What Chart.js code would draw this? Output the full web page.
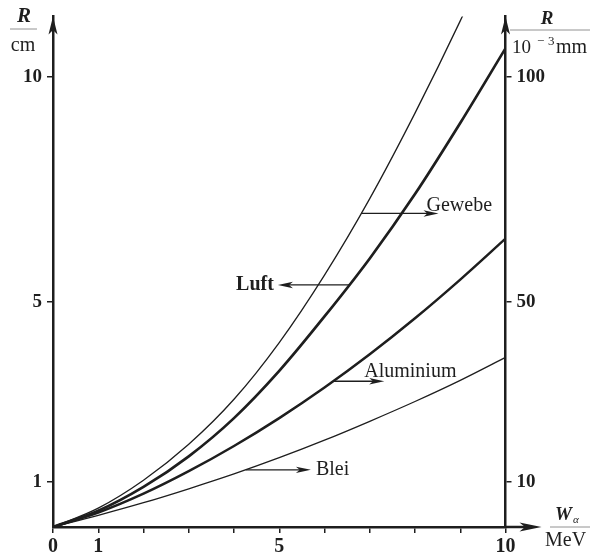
<!DOCTYPE html>
<html><head><meta charset="utf-8">
<script src="https://cdn.jsdelivr.net/npm/chart.js@4/dist/chart.umd.min.js"></script>
<style>html,body{margin:0;padding:0;background:#fff}#wrap{width:593px;height:559px}</style>
</head><body><div id="wrap"><canvas id="c" width="593" height="559"></canvas></div>
<script>
// ---- data ----
const energies  = [0, 1, 2, 3, 4, 5, 6, 7, 8, 9, 10];               // W_alpha / MeV
const gewebe    = [0, 0.42, 1.04, 1.84, 2.84, 4.1, 5.6, 7.3, 9.2, 11.25, 13.45];
const luft      = [0, 0.36, 0.89, 1.57, 2.42, 3.47, 4.68, 5.97, 7.40, 8.98, 10.64];
const aluminium = [0, 0.32, 0.74, 1.24, 1.80, 2.42, 3.10, 3.84, 4.64, 5.50, 6.41];
const blei      = [0, 0.26, 0.54, 0.85, 1.18, 1.54, 1.93, 2.35, 2.79, 3.26, 3.77];
const xTickValues = [0, 1, 2, 3, 4, 5, 6, 7, 8, 9, 10];
const xTickLabels = ['0', '1', '', '', '', '5', '', '', '', '', '10'];
const leftTicks  = [1, 5, 10];     // R / cm
const rightTicks = [10, 50, 100];  // R / 10^-3 mm
const seriesNames = ['Gewebe', 'Luft', 'Aluminium', 'Blei'];
// label arrows: start on curve -> tip (data coords)
const arrowFrom = [[6.81, 6.97], [6.55, 5.38], [6.19, 3.24], [4.26, 1.27]];
const arrowTo   = [[8.52, 6.97], [4.97, 5.38], [7.32, 3.24], [5.70, 1.27]];

const F = '"Liberation Serif", "Times New Roman", serif';
const INK = '#1e1e1e';
const mk = arr => energies.map((x, i) => ({x, y: arr[i]}));
const widths = [1.3, 2.7, 2.5, 1.3];
const allSeries = [gewebe, luft, aluminium, blei];

function head(ctx, x, y, dx, dy, len, hw) {
  ctx.beginPath();
  ctx.moveTo(x, y);
  ctx.lineTo(x - dx*len - dy*hw, y - dy*len + dx*hw);
  ctx.lineTo(x - dx*len*0.75, y - dy*len*0.75);
  ctx.lineTo(x - dx*len + dy*hw, y - dy*len - dx*hw);
  ctx.closePath();
  ctx.fill();
}

const deco = {
  id: 'deco',
  afterDraw(chart) {
    const ctx = chart.ctx, ca = chart.chartArea;
    const sx = chart.scales.x, sy = chart.scales.y;
    const x0 = sx.getPixelForValue(0), x10 = sx.getPixelForValue(10), y0 = sy.getPixelForValue(0);
    ctx.save();
    ctx.fillStyle = INK; ctx.strokeStyle = INK;
    // axis arrows
    head(ctx, x0, ca.top, 0, -1, 18, 4.5);
    head(ctx, x10, ca.top, 0, -1, 18, 4.5);
    ctx.lineWidth = 2.5;
    ctx.beginPath(); ctx.moveTo(x10, y0); ctx.lineTo(x10 + 22, y0); ctx.stroke();
    head(ctx, x10 + 36, y0, 1, 0, 22, 4.5);

    // axis titles
    ctx.textBaseline = 'alphabetic';
    ctx.textAlign = 'center';
    ctx.font = 'italic bold 21px ' + F;
    ctx.fillText('R', 24, 22);
    ctx.font = '20px ' + F;
    ctx.fillText('cm', 23, 51);
    ctx.lineWidth = 0.8; ctx.strokeStyle = '#777';
    ctx.beginPath(); ctx.moveTo(10, 29); ctx.lineTo(37, 29); ctx.stroke();

    ctx.fillStyle = INK;
    ctx.font = 'italic bold 19px ' + F;
    ctx.fillText('R', 547, 24);
    ctx.beginPath(); ctx.moveTo(510, 30); ctx.lineTo(590, 30); ctx.stroke();
    ctx.textAlign = 'left';
    ctx.font = '19px ' + F;
    ctx.fillText('10', 512, 53);
    ctx.font = '13px ' + F;
    ctx.fillText('\u2212', 537, 45);
    ctx.fillText('3', 548, 45);
    ctx.font = '20px ' + F;
    ctx.fillText('mm', 556, 53);

    ctx.font = 'italic bold 19px ' + F;
    ctx.fillText('W', 555, 520);
    ctx.font = 'italic 11px ' + F;
    ctx.fillText('\u03b1', 573, 523);
    ctx.beginPath(); ctx.moveTo(550, 527); ctx.lineTo(590, 527); ctx.stroke();
    ctx.font = '20px ' + F;
    ctx.fillText('MeV', 545, 546);

    // label arrows and names
    ctx.strokeStyle = INK; ctx.fillStyle = INK; ctx.lineWidth = 1.3;
    seriesNames.forEach((name, i) => {
      const ax = sx.getPixelForValue(arrowFrom[i][0]), ay = sy.getPixelForValue(arrowFrom[i][1]);
      const bx = sx.getPixelForValue(arrowTo[i][0]), by = sy.getPixelForValue(arrowTo[i][1]);
      const dir = bx > ax ? 1 : -1;
      ctx.beginPath(); ctx.moveTo(ax, ay); ctx.lineTo(bx - dir*8, by); ctx.stroke();
      head(ctx, bx, by, dir, 0, 15, 3.2);
      if (name === 'Gewebe') {
        ctx.font = '20px ' + F; ctx.textAlign = 'left'; ctx.textBaseline = 'alphabetic';
        ctx.fillText(name, bx - 12, by - 2);
      } else if (name === 'Luft') {
        ctx.font = 'bold 20px ' + F; ctx.textAlign = 'right'; ctx.textBaseline = 'middle';
        ctx.fillText(name, bx - 4, by);
      } else if (name === 'Aluminium') {
        ctx.font = '20px ' + F; ctx.textAlign = 'left'; ctx.textBaseline = 'alphabetic';
        ctx.fillText(name, bx - 20, by - 4);
      } else {
        ctx.font = '20px ' + F; ctx.textAlign = 'left'; ctx.textBaseline = 'middle';
        ctx.fillText(name, bx + 5, by);
      }
    });
    ctx.restore();
  }
};

new Chart(document.getElementById('c'), {
  type: 'line',
  data: {
    datasets: allSeries.map((arr, i) => ({
      label: seriesNames[i],
      data: mk(arr),
      borderColor: INK,
      borderWidth: widths[i],
      pointRadius: 0,
      fill: false,
      cubicInterpolationMode: 'monotone'
    }))
  },
  options: {
    responsive: false,
    animation: false,
    layout: {padding: {top: 10, left: 0, right: 0, bottom: 0}},
    plugins: {legend: {display: false}, tooltip: {enabled: false}},
    scales: {
      x: {
        type: 'linear', min: 0, max: 10,
        afterBuildTicks: s => { s.ticks = xTickValues.map(v => ({value: v})); },
        afterFit: s => { s.height = 32; },
        ticks: {
          callback: (v) => xTickLabels[xTickValues.indexOf(v)] ?? '',
          autoSkip: false, maxRotation: 0, padding: 2,
          color: INK, font: {family: F, size: 20, weight: 'bold'}
        },
        grid: {drawOnChartArea: false, drawTicks: true, tickLength: 6, color: INK, lineWidth: 1.5},
        border: {display: true, color: INK, width: 2.5}
      },
      y: {
        type: 'linear', position: 'left', min: 0, max: 11.35,
        afterBuildTicks: s => { s.ticks = leftTicks.map(v => ({value: v})); },
        afterFit: s => { s.width = 53; },
        ticks: {padding: 5, color: INK, font: {family: F, size: 19, weight: 'bold'}},
        grid: {drawOnChartArea: false, drawTicks: true, tickLength: 6, color: INK, lineWidth: 1.5},
        border: {display: true, color: INK, width: 2.5}
      },
      y2: {
        type: 'linear', position: 'right', min: 0, max: 113.5,
        afterBuildTicks: s => { s.ticks = rightTicks.map(v => ({value: v})); },
        afterFit: s => { s.width = 87.5; },
        ticks: {padding: 5, color: INK, font: {family: F, size: 19, weight: 'bold'}},
        grid: {drawOnChartArea: false, drawTicks: true, tickLength: 6, color: INK, lineWidth: 1.5},
        border: {display: true, color: INK, width: 2.5}
      }
    }
  },
  plugins: [deco]
});
</script></body></html>
